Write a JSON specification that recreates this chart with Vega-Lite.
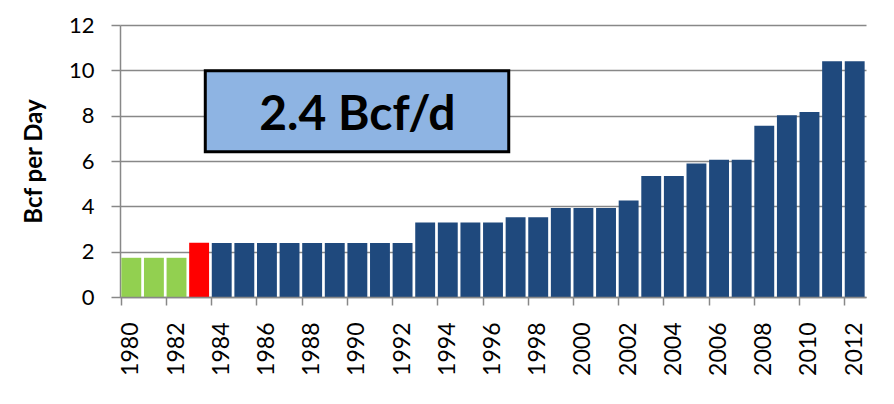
{
  "$schema": "https://vega.github.io/schema/vega-lite/v6.json",
  "width": 746,
  "height": 272,
  "autosize": "none",
  "padding": {"left": 120, "top": 25, "right": 28, "bottom": 107},
  "config": {"view": {"stroke": null}, "font": "Lato", "background": "#ffffff"},
  "layer": [
    {
      "data": {"values": [
        {"year": "1980", "v": 1.73, "grp": "a"},
        {"year": "1981", "v": 1.73, "grp": "a"},
        {"year": "1982", "v": 1.73, "grp": "a"},
        {"year": "1983", "v": 2.39, "grp": "b"},
        {"year": "1984", "v": 2.38, "grp": "c"},
        {"year": "1985", "v": 2.38, "grp": "c"},
        {"year": "1986", "v": 2.38, "grp": "c"},
        {"year": "1987", "v": 2.38, "grp": "c"},
        {"year": "1988", "v": 2.38, "grp": "c"},
        {"year": "1989", "v": 2.38, "grp": "c"},
        {"year": "1990", "v": 2.38, "grp": "c"},
        {"year": "1991", "v": 2.38, "grp": "c"},
        {"year": "1992", "v": 2.38, "grp": "c"},
        {"year": "1993", "v": 3.29, "grp": "c"},
        {"year": "1994", "v": 3.29, "grp": "c"},
        {"year": "1995", "v": 3.29, "grp": "c"},
        {"year": "1996", "v": 3.29, "grp": "c"},
        {"year": "1997", "v": 3.52, "grp": "c"},
        {"year": "1998", "v": 3.52, "grp": "c"},
        {"year": "1999", "v": 3.93, "grp": "c"},
        {"year": "2000", "v": 3.93, "grp": "c"},
        {"year": "2001", "v": 3.93, "grp": "c"},
        {"year": "2002", "v": 4.26, "grp": "c"},
        {"year": "2003", "v": 5.34, "grp": "c"},
        {"year": "2004", "v": 5.34, "grp": "c"},
        {"year": "2005", "v": 5.89, "grp": "c"},
        {"year": "2006", "v": 6.06, "grp": "c"},
        {"year": "2007", "v": 6.06, "grp": "c"},
        {"year": "2008", "v": 7.55, "grp": "c"},
        {"year": "2009", "v": 8.02, "grp": "c"},
        {"year": "2010", "v": 8.16, "grp": "c"},
        {"year": "2011", "v": 10.4, "grp": "c"},
        {"year": "2012", "v": 10.4, "grp": "c"}
      ]},
      "mark": {"type": "bar"},
      "encoding": {
        "x": {
          "field": "year", "type": "ordinal",
          "scale": {"paddingInner": 0.12, "paddingOuter": 0.06},
          "axis": {
            "orient": "bottom",
            "values": ["1980","1982","1984","1986","1988","1990","1992","1994","1996","1998","2000","2002","2004","2006","2008","2010","2012"],
            "ticks": false, "domain": false, "grid": false,
            "labelAngle": -90, "labelPadding": 25, "labelFontSize": 23,
            "labelColor": "#000000", "labelFont": "Lato", "title": null
          }
        },
        "y": {
          "field": "v", "type": "quantitative",
          "scale": {"domain": [0, 12], "nice": false},
          "axis": {
            "orient": "left",
            "values": [0, 2, 4, 6, 8, 10, 12],
            "title": "Bcf per Day",
            "titleFontSize": 24, "titleFontWeight": "bold", "titleColor": "#000000", "titleFont": "Lato",
            "titlePadding": 22,
            "labelFontSize": 22, "labelColor": "#000000", "labelPadding": 17, "labelFont": "Lato",
            "tickSize": 9, "tickColor": "#888888", "tickWidth": 1.5,
            "domainColor": "#888888", "domainWidth": 1.5,
            "grid": true, "gridColor": "#888888", "gridWidth": 1.5
          }
        },
        "color": {
          "field": "grp", "type": "nominal",
          "scale": {"domain": ["a", "b", "c"], "range": ["#92d050", "#ff0000", "#1f497d"]},
          "legend": null
        }
      }
    },
    {
      "data": {"values": [{"x1": "1983", "x2": "1997", "y1": 6.41, "y2": 9.98}]},
      "mark": {"type": "rect", "fill": "#8eb4e3", "stroke": "#000000", "strokeWidth": 3},
      "encoding": {
        "x": {
          "field": "x1", "type": "ordinal", "bandPosition": 0.81,
          "axis": {
            "orient": "bottom",
            "values": ["1980","1982","1984","1986","1988","1990","1992","1994","1996","1998","2000","2002","2004","2006","2008","2010","2012"],
            "bandPosition": 0, "labels": false, "grid": false, "title": null,
            "ticks": true, "tickSize": 8, "tickColor": "#888888", "tickWidth": 1.5,
            "domain": true, "domainColor": "#888888", "domainWidth": 1.5
          }
        },
        "x2": {"field": "x2", "bandPosition": 0.155},
        "y": {"field": "y1", "type": "quantitative", "axis": null},
        "y2": {"field": "y2"}
      }
    },
    {
      "data": {"values": [{"x": "1990", "y": 7.37, "t": "2.4 Bcf/d"}]},
      "mark": {"type": "text", "fontSize": 48, "fontWeight": "bold", "font": "Lato", "align": "center", "baseline": "alphabetic", "color": "#000000"},
      "encoding": {
        "x": {"field": "x", "type": "ordinal", "axis": null},
        "y": {"field": "y", "type": "quantitative", "axis": null},
        "text": {"field": "t"}
      }
    }
  ],
  "resolve": {"axis": {"x": "independent", "y": "independent"}}
}
